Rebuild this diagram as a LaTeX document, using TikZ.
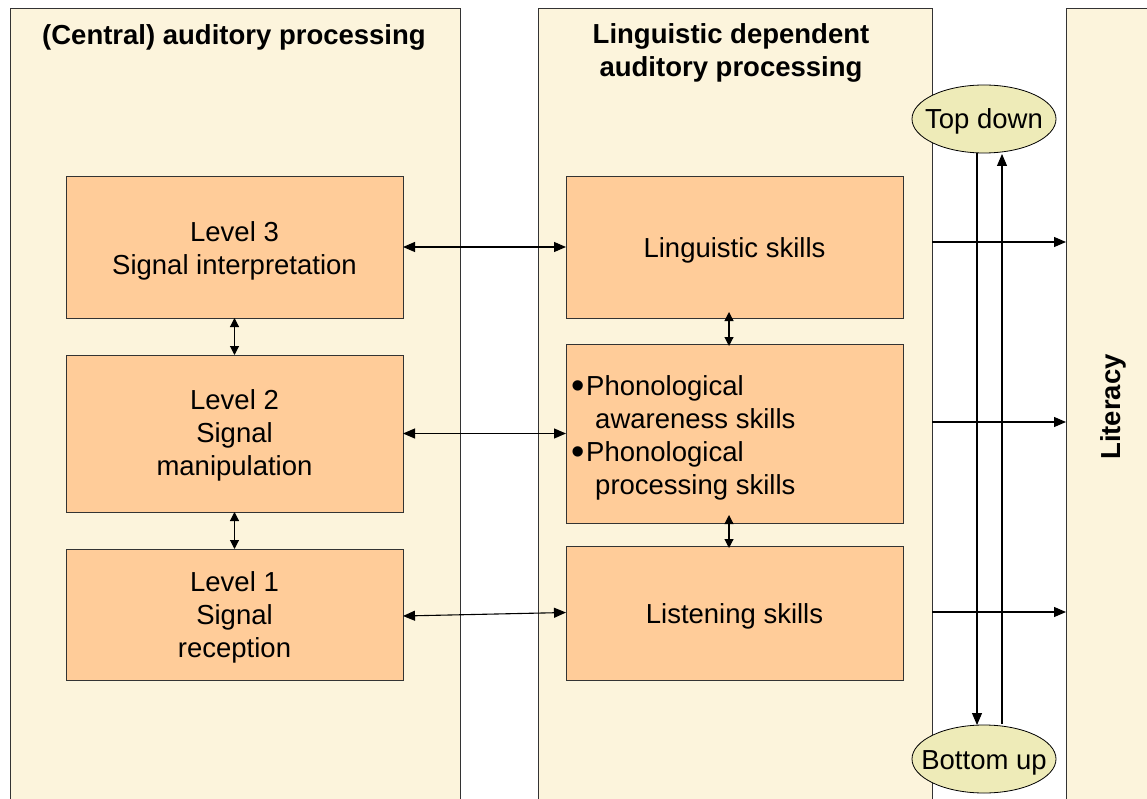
\documentclass[tikz,border=0pt]{standalone}
\usepackage{fontspec}
\setmainfont{Liberation Sans}
\usetikzlibrary{arrows.meta,shapes.geometric}
\definecolor{panelc}{HTML}{FCF4DC}
\definecolor{boxc}{HTML}{FFCC99}
\definecolor{ellc}{HTML}{EEEBB8}
\definecolor{linec}{HTML}{333333}
\begin{document}
\begin{tikzpicture}[x=1pt,y=-1pt,
  font=\fontsize{27.5}{33}\selectfont,
  panelst/.style={draw=linec, line width=0.8pt, fill=panelc, inner sep=0pt, outer sep=0pt, anchor=north west},
  boxst/.style={draw=linec, line width=0.8pt, fill=boxc, inner sep=0pt, outer sep=0pt, minimum width=337pt},
  txt/.style={align=center, inner sep=0pt},
  ellst/.style={ellipse, draw=black, line width=0.8pt, fill=ellc, minimum width=144pt, minimum height=68pt, inner sep=0pt, outer sep=0pt},
  dbl/.style={line width=1.1pt, {Triangle[length=12pt,width=10pt]}-{Triangle[length=12pt,width=10pt]}},
  vdbl/.style={line width=1.1pt, {Triangle[length=9pt,width=9pt]}-{Triangle[length=9pt,width=9pt]}},
  sgl/.style={line width=1.1pt, -{Triangle[length=12pt,width=10pt]}},
  title/.style={font=\fontsize{27.5}{33}\selectfont\bfseries, align=center}
]
\clip (0,0) rectangle (1147,799);
\fill[white] (0,0) rectangle (1147,799);
% panels
\node[panelst, minimum width=450pt, minimum height=830pt] (P1) at (10,8) {};
\node[panelst, minimum width=394pt, minimum height=830pt] (P2) at (538,8) {};
\node[panelst, minimum width=120pt, minimum height=830pt] (P3) at (1066,8) {};
\node[title] (T1) at (234,37) {(Central) auditory processing};
\node[title] (T2) at (731,53) {Linguistic dependent\\auditory processing};
\node[title, rotate=90] (T3) at (1113,407) {Literacy};
% left boxes
\node[boxst, minimum height=142pt] (L3) at (234.5,247) {};
\node[txt] (L3t) at ([yshift=-3.5pt]L3.center) {Level 3\\Signal interpretation};
\node[boxst, minimum height=157pt] (L2) at (234.5,433.5) {};
\node[txt] (L2t) at ([yshift=-2pt]L2.center) {Level 2\\Signal\\manipulation};
\node[boxst, minimum height=131pt] (L1) at (234.5,614.5) {};
\node[txt] (L1t) at ([yshift=-2.5pt]L1.center) {Level 1\\Signal\\reception};
% middle boxes
\node[boxst, minimum height=142pt] (LS) at (734.5,247) {};
\node[txt] (LSt) at ([yshift=-3.5pt]LS.center) {Linguistic skills};
\node[boxst, minimum height=179pt] (PH) at (734.5,433.5) {};
\node[anchor=west, align=left, inner sep=0pt] (PHt) at (569,438)
  {\makebox[17pt][l]{\hspace{2.5pt}\raisebox{-2.5pt}{\fontsize{38}{33}\selectfont\textbullet}}Phonological\\\hspace*{26pt}awareness skills\\\makebox[17pt][l]{\hspace{2.5pt}\raisebox{-2.5pt}{\fontsize{38}{33}\selectfont\textbullet}}Phonological\\\hspace*{26pt}processing skills};
\node[boxst, minimum height=134pt] (LI) at (734.5,613) {};
\node[txt] (LIt) at ([yshift=-3.5pt]LI.center) {Listening skills};
% ellipses
\node[ellst] (TD) at (984,119) {\makebox[0pt]{\smash{\raisebox{-10pt}{Top down}}}};
\node[ellst] (BU) at (984,759) {\makebox[0pt]{\smash{\raisebox{-10pt}{Bottom up}}}};
% arrows
\draw[dbl] (L3.east) -- (LS.west);
\draw[dbl] (L2.east) -- (PH.west);
\draw[dbl] ([yshift=-1.5pt]L1.east) -- ([yshift=0.5pt]LI.west);
\draw[vdbl] (L3.south) -- (L2.north);
\draw[vdbl] (L2.south) -- (L1.north);
\draw[vdbl] ([xshift=-5.5pt,yshift=6pt]LS.south) -- ([xshift=-5.5pt,yshift=-2pt]PH.north);
\draw[vdbl] ([xshift=-5.5pt,yshift=8pt]PH.south) -- ([xshift=-5.5pt,yshift=-2pt]LI.north);
\coordinate (r1) at (P2.east |- 242,242);
\coordinate (r2) at (P2.east |- 422,422);
\coordinate (r3) at (P2.east |- 612,612);
\draw[sgl] (r1) -- (r1 -| P3.west);
\draw[sgl] (r2) -- (r2 -| P3.west);
\draw[sgl] (r3) -- (r3 -| P3.west);
\draw[sgl] ([xshift=-7pt]TD.south) -- ([xshift=-7pt]BU.north);
\draw[sgl] ([xshift=18pt,yshift=1pt]BU.north) -- ([xshift=18pt,yshift=-1pt]TD.south);
\end{tikzpicture}
\end{document}
